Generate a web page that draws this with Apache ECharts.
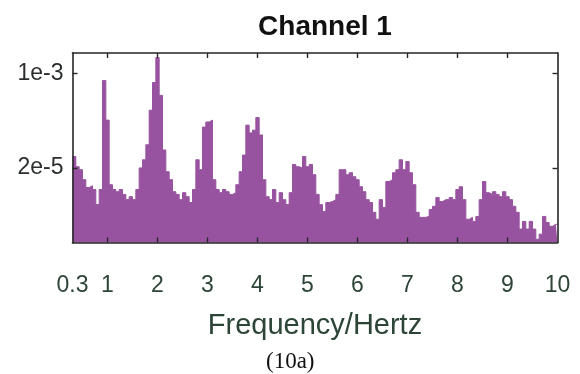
<!DOCTYPE html>
<html>
<head>
<meta charset="utf-8">
<script src="https://cdn.jsdelivr.net/npm/echarts@6/dist/echarts.min.js"></script>
<style>
html,body{margin:0;padding:0;background:#fff;}
#chart{width:580px;height:374px;}
</style>
</head>
<body>
<div id="chart"></div>
<script>
// ---- data ----
const titleText = 'Channel 1';
const xName = 'Frequency/Hertz';
const figLabel = '(10a)';
const binStart = 0.3;          // Hz, left edge of first bin
const binWidth = 1 / 15;       // Hz
const freqMin = 0.3, freqMax = 10;
const xLabelValues = [0.3, 1, 2, 3, 4, 5, 6, 7, 8, 9, 10];
const xTickValues = [1, 2, 3, 4, 5, 6, 7, 8, 9];
const yTickValues = [2e-5, 1e-3];
const yTickLabels = ['2e-5', '1e-3'];
const yMin = 9.2e-7, yMax = 2.3e-3;
const psd = [
  3.2e-5, 2.1e-5, 1.86e-5, 1.23e-5, 8.9e-6, 9.6e-6, 8.2e-6, 4.4e-6, 8.2e-6, 7.4e-4,
  1.44e-4, 1.0e-5, 8.2e-6, 7.5e-6, 8.2e-6, 6.7e-6, 5.4e-6, 6.1e-6, 5.4e-6, 8.2e-6,
  2.0e-5, 2.8e-5, 5.2e-5, 2.17e-4, 6.8e-4, 1.9e-3, 4.0e-4, 4.2e-5, 1.71e-5, 1.23e-5,
  7.5e-6, 6.7e-6, 5.4e-6, 7.2e-6, 6.1e-6, 4.8e-6, 8.2e-6, 2.8e-5, 1.86e-5, 1.08e-4,
  1.33e-4, 1.44e-4, 1.23e-5, 8.2e-6, 7.2e-6, 8.2e-6, 7.5e-6, 6.7e-6, 7.2e-6, 1.0e-5,
  1.71e-5, 3.4e-5, 1.17e-4, 8.5e-5, 9.5e-5, 1.6e-4, 7.8e-5, 1.23e-5, 6.1e-6, 5.4e-6,
  8.2e-6, 4.8e-6, 7.2e-6, 5.4e-6, 4.4e-6, 7.2e-6, 2.3e-5, 2.1e-5, 2.0e-5, 3.2e-5,
  2.1e-5, 2.3e-5, 1.51e-5, 6.7e-6, 4.4e-6, 3.3e-6, 4.8e-6, 5.0e-6, 5.4e-6, 6.7e-6,
  1.86e-5, 1.86e-5, 1.51e-5, 1.64e-5, 1.39e-5, 1.23e-5, 9.2e-6, 7.5e-6, 5.4e-6, 4.8e-6,
  3.2e-6, 2.4e-6, 5.4e-6, 3.9e-6, 1.14e-5, 1.23e-5, 1.64e-5, 1.86e-5, 2.8e-5, 1.86e-5,
  2.6e-5, 1.64e-5, 1.0e-5, 3.2e-6, 2.6e-6, 2.6e-6, 2.7e-6, 3.6e-6, 4.1e-6, 5.9e-6,
  5.0e-6, 5.4e-6, 5.4e-6, 5.9e-6, 5.4e-6, 8.2e-6, 9.2e-6, 5.4e-6, 2.4e-6, 2.6e-6,
  2.2e-6, 2.7e-6, 5.4e-6, 1.14e-5, 7.2e-6, 6.7e-6, 7.5e-6, 6.7e-6, 6.1e-6, 7.5e-6,
  6.1e-6, 5.4e-6, 4.1e-6, 3.2e-6, 1.6e-6, 2.2e-6, 1.6e-6, 2.2e-6, 1.6e-6, 1.05e-6,
  1.3e-6, 2.7e-6, 2.1e-6, 1.8e-6, 1.95e-6, 1.95e-6
];

// ---- build series data ----
const seriesData = psd.map((v, i) => [binStart + i * binWidth, v]);
seriesData.push([freqMax, psd[psd.length - 1]]);

const FILL = '#9853a0';
const AXIS = '#262626';
const XTXT = '#2c4536';
const sans = '"Liberation Sans", Arial, Helvetica, sans-serif';

function yFmt(v) {
  let best = 0, bd = Infinity;
  yTickValues.forEach((t, i) => {
    const d = Math.abs(Math.log10(v) - Math.log10(t));
    if (d < bd) { bd = d; best = i; }
  });
  return yTickLabels[best];
}

const chart = echarts.init(document.getElementById('chart'), null, {renderer: 'canvas'});
const axisLineStyle = {show: true, lineStyle: {color: AXIS, width: 1.6}};
chart.setOption({
  animation: false,
  backgroundColor: '#fff',
  title: {
    text: titleText,
    left: 320, top: 8, textAlign: 'center',
    textStyle: {fontFamily: sans, fontWeight: 'bold', fontSize: 28, color: '#111'}
  },
  graphic: [{
    type: 'text', left: 266, top: 350,
    style: {text: figLabel, font: '23px "Liberation Serif", "Times New Roman", serif', fill: '#111'}
  }],
  grid: {left: 72.5, right: 22.5, top: 53, bottom: 131.5, containLabel: false},
  xAxis: [{
    type: 'value', min: freqMin, max: freqMax, position: 'bottom', z: 5,
    name: xName, nameLocation: 'middle', nameGap: 69,
    nameTextStyle: {fontFamily: sans, fontSize: 29, color: XTXT},
    axisLine: axisLineStyle,
    axisTick: {show: true, inside: true, length: 5, customValues: xTickValues, lineStyle: {color: AXIS, width: 1.4}},
    axisLabel: {show: true, customValues: xLabelValues, margin: 32, fontFamily: sans, fontSize: 23, color: XTXT},
    splitLine: {show: false}
  }, {
    type: 'value', min: freqMin, max: freqMax, position: 'top', z: 5,
    axisLine: axisLineStyle,
    axisTick: {show: true, inside: true, length: 5, customValues: xTickValues, lineStyle: {color: AXIS, width: 1.4}},
    axisLabel: {show: false},
    splitLine: {show: false}
  }],
  yAxis: [{
    type: 'log', min: yMin, max: yMax, position: 'left', z: 5,
    axisLine: axisLineStyle,
    axisTick: {show: true, inside: true, length: 5, customValues: yTickValues, lineStyle: {color: AXIS, width: 1.4}},
    axisLabel: {show: true, customValues: yTickValues, formatter: yFmt, margin: 9, fontFamily: sans, fontSize: 23, color: '#2a2f2c'},
    splitLine: {show: false}, minorTick: {show: false}
  }, {
    type: 'log', min: yMin, max: yMax, position: 'right', z: 5,
    axisLine: axisLineStyle,
    axisTick: {show: true, inside: true, length: 5, customValues: yTickValues, lineStyle: {color: AXIS, width: 1.4}},
    axisLabel: {show: false},
    splitLine: {show: false}
  }],
  series: [{
    type: 'line', step: 'end', xAxisIndex: 0, yAxisIndex: 0,
    data: seriesData, symbol: 'none', z: 2,
    lineStyle: {color: FILL, width: 1},
    areaStyle: {color: FILL, opacity: 1, origin: 'start'},
    clip: true
  }]
});
</script>
</body>
</html>
